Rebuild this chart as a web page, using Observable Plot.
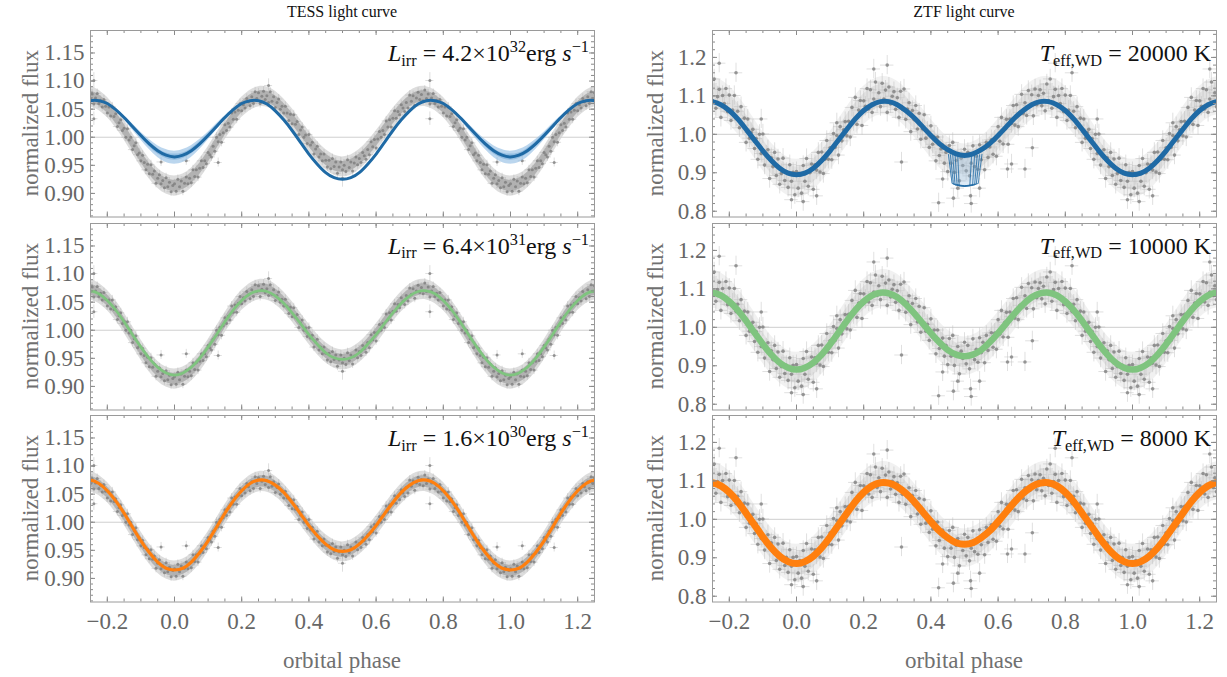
<!DOCTYPE html>
<html><head><meta charset="utf-8">
<script src="https://cdn.jsdelivr.net/npm/d3@7"></script>
<script src="https://cdn.jsdelivr.net/npm/@observablehq/plot@0.6"></script>
<style>
body{margin:0;background:#fff;}
#wrap{position:relative;width:1227px;height:677px;overflow:hidden;font-family:"Liberation Serif","Times New Roman",serif;}
#wrap svg{position:absolute;overflow:visible;}
.title{position:absolute;font-family:"Liberation Serif",serif;font-size:16px;color:#111;transform:translateX(-50%);white-space:nowrap;line-height:16px;}
.ylab{position:absolute;font-family:"Liberation Serif",serif;font-size:23px;color:#707070;white-space:nowrap;transform:translate(-50%,-50%) rotate(-90deg);line-height:23px;}
.xlab{position:absolute;font-family:"Liberation Serif",serif;font-size:23px;color:#707070;white-space:nowrap;transform:translate(-50%,-50%);line-height:23px;}
.ann{position:absolute;font-family:"Liberation Serif",serif;font-size:24px;color:#111;white-space:nowrap;line-height:24px;}
.ann sub{font-size:0.68em;position:relative;top:0.3em;vertical-align:baseline;}
.ann sup{font-size:0.68em;position:relative;top:-0.55em;vertical-align:baseline;}
</style></head>
<body><div id="wrap"></div>
<script>
// ---------------- data ----------------
const titles = ["TESS light curve", "ZTF light curve"];
const xLabel = "orbital phase";
const yLabel = "normalized flux";
const annTess = ["<i>L</i><sub>irr</sub> = 4.2×10<sup>32</sup>erg <i>s</i><sup>−1</sup>",
                 "<i>L</i><sub>irr</sub> = 6.4×10<sup>31</sup>erg <i>s</i><sup>−1</sup>",
                 "<i>L</i><sub>irr</sub> = 1.6×10<sup>30</sup>erg <i>s</i><sup>−1</sup>"];
const annZtf = ["<i>T</i><sub>eff,WD</sub> = 20000 K",
                "<i>T</i><sub>eff,WD</sub> = 10000 K",
                "<i>T</i><sub>eff,WD</sub> = 8000 K"];

const xTicks = [-0.2, 0.0, 0.2, 0.4, 0.6, 0.8, 1.0, 1.2];
const yTicksTess = [0.90, 0.95, 1.00, 1.05, 1.10, 1.15];
const yTicksZtf = [0.8, 0.9, 1.0, 1.1, 1.2];

// TESS phase-folded points [phase, flux]
const tessPoints = [
[0.000,.917],[0.005,.904],[0.010,.925],[0.015,.912],[0.020,.922],[0.025,.904],[0.030,.918],[0.035,.929],[0.040,.917],[0.045,.927],
[0.050,.919],[0.055,.942],[0.060,.930],[0.065,.942],[0.070,.929],[0.075,.945],[0.080,.958],[0.085,.946],[0.090,.958],[0.095,.953],
[0.100,.973],[0.105,.969],[0.110,.965],[0.115,.984],[0.120,.975],[0.125,1.000],[0.130,.992],[0.135,1.005],[0.140,.991],[0.145,1.008],
[0.150,1.022],[0.155,1.012],[0.160,1.025],[0.165,1.018],[0.170,1.043],[0.175,1.032],[0.180,1.045],[0.185,1.032],[0.190,1.048],[0.195,1.060],
[0.200,1.047],[0.205,1.058],[0.210,1.052],[0.215,1.069],[0.220,1.063],[0.225,1.056],[0.230,1.072],[0.235,1.060],[0.240,1.081],[0.245,1.069],
[0.250,1.079],[0.255,1.060],[0.260,1.073],[0.265,1.082],[0.270,1.067],[0.275,1.074],[0.280,1.062],[0.285,1.081],[0.290,1.064],[0.295,1.072],
[0.300,1.053],[0.305,1.062],[0.310,1.068],[0.315,1.050],[0.320,1.055],[0.325,1.043],[0.330,1.055],[0.335,1.043],[0.340,1.030],[0.345,1.041],
[0.350,1.024],[0.355,1.040],[0.360,1.023],[0.365,1.028],[0.370,1.005],[0.375,1.013],[0.380,1.018],[0.385,1.000],[0.390,1.004],[0.395,.989],
[0.400,1.005],[0.405,.986],[0.410,.991],[0.415,.970],[0.420,.979],[0.425,.984],[0.430,.965],[0.435,.970],[0.440,.958],[0.445,.970],
[0.450,.959],[0.455,.947],[0.460,.959],[0.465,.944],[0.470,.962],[0.475,.948],[0.480,.956],[0.485,.936],[0.490,.947],[0.495,.956],
[0.500,.942],[0.505,.950],[0.510,.939],[0.515,.960],[0.520,.946],[0.525,.956],[0.530,.940],[0.535,.954],[0.540,.965],[0.545,.951],
[0.550,.962],[0.555,.955],[0.560,.973],[0.565,.967],[0.570,.961],[0.575,.978],[0.580,.969],[0.585,.992],[0.590,.983],[0.595,.996],
[0.600,.981],[0.605,.997],[0.610,1.010],[0.615,1.000],[0.620,1.012],[0.625,1.005],[0.630,1.029],[0.635,1.018],[0.640,1.031],[0.645,1.018],
[0.650,1.034],[0.655,1.047],[0.660,1.034],[0.665,1.046],[0.670,1.040],[0.675,1.058],[0.680,1.052],[0.685,1.046],[0.690,1.062],[0.695,1.052],
[0.700,1.075],[0.705,1.064],[0.710,1.074],[0.715,1.057],[0.720,1.070],[0.725,1.080],[0.730,1.067],[0.735,1.076],[0.740,1.065],[0.745,1.084],
[0.750,1.069],[0.755,1.077],[0.760,1.059],[0.765,1.070],[0.770,1.078],[0.775,1.060],[0.780,1.066],[0.785,1.054],[0.790,1.067],[0.795,1.055],
[0.800,1.043],[0.805,1.054],[0.810,1.038],[0.815,1.054],[0.820,1.037],[0.825,1.042],[0.830,1.019],[0.835,1.026],[0.840,1.031],[0.845,1.012],
[0.850,1.016],[0.855,1.000],[0.860,1.015],[0.865,.995],[0.870,1.000],[0.875,.978],[0.880,.985],[0.885,.990],[0.890,.969],[0.895,.972],
[0.900,.958],[0.905,.968],[0.910,.955],[0.915,.942],[0.920,.952],[0.925,.935],[0.930,.951],[0.935,.934],[0.940,.940],[0.945,.918],
[0.950,.927],[0.955,.933],[0.960,.917],[0.965,.923],[0.970,.910],[0.975,.928],[0.980,.912],[0.985,.920],[0.990,.903],[0.995,.914]
];
const tessYerr = 0.008, tessXerr = 0.012;
// TESS isolated points [phase, flux, yerr]
const tessOutliers = [[0.280,1.092,0.012],[0.760,1.101,0.014],[0.760,1.033,0.012],[0.500,0.927,0.016],[0.035,0.958,0.008],[0.960,0.956,0.008],[0.130,0.955,0.008]];
// extent of the dense TESS point cloud (phase 0..1 every 0.05): outer halo and dense core
const cloudPhase = [0,0.05,0.1,0.15,0.2,0.25,0.3,0.35,0.4,0.45,0.5,0.55,0.6,0.65,0.7,0.75,0.8,0.85,0.9,0.95,1];
const tessLo  = [.895,.909,.947,.995,1.035,1.054,1.046,1.015,.975,.942,.929,.942,.975,1.015,1.046,1.054,1.035,.995,.947,.909,.895];
const tessHi  = [.931,.945,.983,1.031,1.071,1.090,1.082,1.051,1.011,.978,.965,.978,1.011,1.051,1.082,1.090,1.071,1.031,.983,.945,.931];
const tessLo2 = [.903,.917,.955,1.003,1.043,1.062,1.054,1.023,.983,.950,.937,.950,.983,1.023,1.054,1.062,1.043,1.003,.955,.917,.903];
const tessHi2 = [.923,.937,.975,1.023,1.063,1.082,1.074,1.043,1.003,.970,.957,.970,1.003,1.043,1.074,1.082,1.063,1.023,.975,.937,.923];

// ZTF phase-folded points [phase, flux]
const ztfPoints = [
[0.000,.903],[0.005,.860],[0.010,.893],[0.015,.847],[0.020,.919],[0.025,.878],[0.030,.937],[0.035,.865],[0.040,.900],[0.045,.923],
[0.050,.857],[0.055,.921],[0.060,.907],[0.065,.953],[0.070,.902],[0.075,.954],[0.080,.898],[0.085,.935],[0.090,.984],[0.095,.935],
[0.100,.965],[0.105,.934],[0.110,1.002],[0.115,.966],[0.120,.997],[0.125,.946],[0.130,1.020],[0.135,.983],[0.140,1.012],[0.145,1.033],
[0.150,.996],[0.155,1.034],[0.160,.993],[0.165,1.070],[0.170,1.033],[0.175,1.096],[0.180,1.026],[0.185,1.063],[0.190,1.088],[0.195,1.023],
[0.200,1.087],[0.205,1.073],[0.210,1.119],[0.215,1.066],[0.220,1.116],[0.225,1.057],[0.230,1.092],[0.235,1.136],[0.240,1.083],[0.245,1.108],
[0.250,1.072],[0.255,1.133],[0.260,1.092],[0.265,1.115],[0.270,1.057],[0.275,1.123],[0.280,1.079],[0.285,1.099],[0.290,1.111],[0.295,1.065],
[0.300,1.095],[0.305,1.044],[0.310,1.112],[0.315,1.065],[0.320,1.118],[0.325,1.039],[0.330,1.066],[0.335,1.082],[0.340,1.007],[0.345,1.062],
[0.350,1.038],[0.355,1.075],[0.360,1.014],[0.365,1.055],[0.370,.987],[0.375,1.014],[0.380,1.051],[0.385,.990],[0.390,1.008],[0.395,.966],
[0.400,1.022],[0.405,.974],[0.410,.993],[0.415,.931],[0.420,.993],[0.425,.945],[0.430,.962],[0.435,.972],[0.440,.925],[0.445,.953],
[0.450,.903],[0.455,.971],[0.460,.925],[0.465,.979],[0.470,.901],[0.475,.932],[0.480,.950],[0.485,.879],[0.490,.938],[0.495,.919],
[0.500,.961],[0.505,.905],[0.510,.953],[0.515,.892],[0.520,.925],[0.525,.970],[0.530,.916],[0.535,.943],[0.540,.909],[0.545,.973],
[0.550,.934],[0.555,.961],[0.560,.908],[0.565,.979],[0.570,.940],[0.575,.967],[0.580,.986],[0.585,.948],[0.590,.985],[0.595,.943],
[0.600,1.020],[0.605,.982],[0.610,1.044],[0.615,.975],[0.620,1.013],[0.625,1.039],[0.630,.974],[0.635,1.040],[0.640,1.028],[0.645,1.075],
[0.650,1.024],[0.655,1.077],[0.660,1.020],[0.665,1.057],[0.670,1.104],[0.675,1.054],[0.680,1.082],[0.685,1.049],[0.690,1.114],[0.695,1.075],
[0.700,1.103],[0.705,1.048],[0.710,1.118],[0.715,1.077],[0.720,1.101],[0.725,1.116],[0.730,1.074],[0.735,1.107],[0.740,1.061],[0.745,1.131],
[0.750,1.088],[0.755,1.144],[0.760,1.068],[0.765,1.098],[0.770,1.117],[0.775,1.044],[0.780,1.101],[0.785,1.080],[0.790,1.119],[0.795,1.059],
[0.800,1.102],[0.805,1.036],[0.810,1.063],[0.815,1.101],[0.820,1.041],[0.825,1.060],[0.830,1.017],[0.835,1.072],[0.840,1.024],[0.845,1.042],
[0.850,.979],[0.855,1.040],[0.860,.990],[0.865,1.005],[0.870,1.013],[0.875,.963],[0.880,.989],[0.885,.935],[0.890,1.000],[0.895,.950],
[0.900,1.001],[0.905,.920],[0.910,.946],[0.915,.960],[0.920,.885],[0.925,.939],[0.930,.916],[0.935,.953],[0.940,.893],[0.945,.936],
[0.950,.870],[0.955,.898],[0.960,.938],[0.965,.880],[0.970,.901],[0.975,.862],[0.980,.921],[0.985,.878],[0.990,.901],[0.995,.843]
];
const ztfYerr = 0.025, ztfXerr = 0.02;
// ZTF isolated points [phase, flux]
const ztfOutliers = [[0.3125,0.928],[0.702,0.965],[0.640,0.923],[0.680,0.910],[0.628,0.910],[0.423,0.822],[0.435,0.884],
[0.467,0.834],[0.518,0.840],[0.520,0.820],[0.545,0.860],[0.480,0.860],[0.020,0.825],[0.985,0.830],[0.270,1.180],
[0.770,1.185],[0.820,1.160],[0.120,1.030],[0.895,1.040],[0.230,1.170],[0.060,0.840]];
// extent of the ZTF point cloud (same phases as cloudPhase): halo and core
const ztfLo  = [.835,.855,.906,.971,1.025,1.050,1.038,.994,.939,.893,.875,.893,.939,.994,1.038,1.050,1.025,.971,.906,.855,.835];
const ztfHi  = [.935,.955,1.006,1.071,1.125,1.150,1.138,1.094,1.039,.993,.975,.993,1.039,1.094,1.138,1.150,1.125,1.071,1.006,.955,.935];
const ztfLo2 = [.855,.875,.926,.991,1.045,1.070,1.058,1.014,.959,.913,.895,.913,.959,1.014,1.058,1.070,1.045,.991,.926,.875,.855];
const ztfHi2 = [.915,.935,.986,1.051,1.105,1.130,1.118,1.074,1.019,.973,.955,.973,1.019,1.074,1.118,1.130,1.105,1.051,.986,.935,.915];

// model light curves, phase 0..1
const modelPhase = [0,0.025,0.05,0.075,0.1,0.125,0.15,0.175,0.2,0.225,0.25,0.275,0.3,0.325,0.35,0.375,0.4,0.425,0.45,0.475,0.5,
  0.525,0.55,0.575,0.6,0.625,0.65,0.675,0.7,0.725,0.75,0.775,0.8,0.825,0.85,0.875,0.9,0.925,0.95,0.975,1];
const modelTess1 = [.965,.968,.976,.988,1.003,1.019,1.035,1.049,1.060,1.065,1.065,1.059,1.047,1.031,1.012,.991,.970,.952,.937,.928,.925,
  .928,.937,.952,.970,.991,1.012,1.031,1.047,1.059,1.065,1.065,1.060,1.049,1.035,1.019,1.003,.988,.976,.968,.965];
const modelTess2 = [.920,.924,.934,.950,.970,.992,1.015,1.036,1.053,1.065,1.070,1.069,1.061,1.048,1.031,1.012,.992,.975,.960,.951,.948,
  .951,.960,.975,.992,1.012,1.031,1.048,1.061,1.069,1.070,1.065,1.053,1.036,1.015,.992,.970,.950,.934,.924,.920];
const modelTess3 = [.915,.918,.929,.946,.967,.991,1.016,1.038,1.056,1.069,1.075,1.074,1.066,1.053,1.035,1.015,.994,.976,.961,.951,.948,
  .951,.961,.976,.994,1.015,1.035,1.053,1.066,1.074,1.075,1.069,1.056,1.038,1.016,.991,.967,.946,.929,.918,.915];
const modelZtf1 = [.895,.899,.912,.932,.957,.985,1.013,1.040,1.062,1.077,1.085,1.085,1.077,1.062,1.043,1.020,.997,.976,.960,.949,.945,
  .949,.960,.976,.997,1.020,1.043,1.062,1.077,1.085,1.085,1.077,1.062,1.040,1.013,.985,.957,.932,.912,.899,.895];
const modelZtf2 = [.890,.895,.908,.929,.956,.986,1.017,1.045,1.067,1.083,1.090,1.088,1.078,1.060,1.037,1.011,.985,.961,.941,.929,.925,
  .929,.941,.961,.985,1.011,1.037,1.060,1.078,1.088,1.090,1.083,1.067,1.045,1.017,.986,.956,.929,.908,.895,.890];
const modelZtf3 = [.885,.890,.904,.926,.954,.985,1.016,1.046,1.070,1.087,1.095,1.094,1.085,1.068,1.046,1.020,.994,.970,.952,.939,.935,
  .939,.952,.970,.994,1.020,1.046,1.068,1.085,1.094,1.095,1.087,1.070,1.046,1.016,.985,.954,.926,.904,.890,.885];

// spread of the strongest-irradiation models around phase 0
const bandPhase = [-0.25,-0.225,-0.2,-0.175,-0.15,-0.125,-0.1,-0.075,-0.05,-0.025,0,0.025,0.05,0.075,0.1,0.125,0.15,0.175,0.2,0.225,0.25];
const bandLo  = [1.065,1.065,1.059,1.047,1.031,1.013,.995,.978,.964,.955,.952,.955,.964,.978,.995,1.013,1.031,1.047,1.059,1.065,1.065];
const bandHi  = [1.065,1.065,1.061,1.051,1.038,1.024,1.009,.996,.985,.978,.975,.978,.985,.996,1.009,1.024,1.038,1.051,1.061,1.065,1.065];
const bandLo2 = [1.065,1.065,1.060,1.048,1.033,1.016,.999,.983,.970,.962,.959,.962,.970,.983,.999,1.016,1.033,1.048,1.060,1.065,1.065];
const bandHi2 = [1.065,1.065,1.060,1.050,1.036,1.021,1.006,.992,.980,.972,.970,.972,.980,.992,1.006,1.021,1.036,1.050,1.060,1.065,1.065];

// eclipse of the white dwarf in the 20000 K models [phase, flux]
const eclipseCurves = [
  [[0.452,0.948],[0.463,0.872],[0.500,0.866],[0.541,0.872],[0.552,0.948]],
  [[0.458,0.947],[0.467,0.870],[0.500,0.865],[0.535,0.870],[0.545,0.947]],
  [[0.465,0.946],[0.472,0.868],[0.500,0.865],[0.530,0.868],[0.538,0.946]],
  [[0.472,0.946],[0.478,0.867],[0.500,0.865],[0.524,0.867],[0.530,0.946]],
  [[0.480,0.945],[0.484,0.866],[0.516,0.866],[0.521,0.945]]
];

// ---------------- build ----------------
const wrap = document.getElementById("wrap");
const fmt1 = d3.format(".1f"), fmt2 = d3.format(".2f");
const BLUE = "#1f6aa5", GREEN = "#7fc47f", ORANGE = "#ff7f0e";

function expandPts(pts, ye, xe) {
  const out = [];
  for (const d of pts) for (const o of [-1, 0, 1]) {
    const q = d[0] + o;
    if (q >= -0.3 && q <= 1.3) out.push({p: q, f: d[1], e: d.length > 2 ? d[2] : ye, xe});
  }
  return out;
}
function expandModel(vals) {
  const out = [];
  for (const o of [-1, 0, 1])
    modelPhase.forEach((p, i) => { if (o === 1 || i < modelPhase.length - 1) out.push({p: p + o, f: vals[i]}); });
  return out;
}
function expandCloud(lo, hi, lo2, hi2) {
  const out = [];
  for (const o of [-1, 0, 1])
    cloudPhase.forEach((p, i) => { if (o === 1 || i < cloudPhase.length - 1) out.push({p: p + o, lo: lo[i], hi: hi[i], lo2: lo2[i], hi2: hi2[i]}); });
  return out;
}
const tessData = expandPts(tessPoints, tessYerr, tessXerr).concat(expandPts(tessOutliers, tessYerr, tessXerr));
const ztfData = expandPts(ztfPoints, ztfYerr, ztfXerr).concat(expandPts(ztfOutliers, ztfYerr, ztfXerr));
const tessCloud = expandCloud(tessLo, tessHi, tessLo2, tessHi2);
const ztfCloud = expandCloud(ztfLo, ztfHi, ztfLo2, ztfHi2);

const rowTops = [30, 222.5, 415];
const frameH = 186.5;
const cols = [
  {svgLeft: 0, W: 610, mL: 90, mR: 16, yDomain: [0.858, 1.19], yMajor: yTicksTess, yMinor: d3.range(0.86, 1.1901, 0.01), yFmt: fmt2, data: tessData,
   ptR: 1.5, ptOp: 0.75, ebOp: 0.55, ebCol: "#b4b4b4",
   cloud: [Plot.areaY(tessCloud, {x: "p", y1: "lo", y2: "hi", fill: "#d2d2d2", fillOpacity: 0.75, curve: "natural", clip: true}),
           Plot.areaY(tessCloud, {x: "p", y1: "lo2", y2: "hi2", fill: "#8e8e8e", fillOpacity: 0.55, curve: "natural", clip: true})]},
  {svgLeft: 610, W: 617, mL: 102, mR: 11, yDomain: [0.785, 1.27], yMajor: yTicksZtf, yMinor: d3.range(0.80, 1.2601, 0.02), yFmt: fmt1, data: ztfData,
   ptR: 1.8, ptOp: 0.75, ebOp: 0.6, ebCol: "#bdbdbd",
   cloud: [Plot.areaY(ztfCloud, {x: "p", y1: "lo", y2: "hi", fill: "#e4e4e4", fillOpacity: 0.5, curve: "natural", clip: true}),
           Plot.areaY(ztfCloud, {x: "p", y1: "lo2", y2: "hi2", fill: "#bdbdbd", fillOpacity: 0.3, curve: "natural", clip: true})]}
];
const xMinor = d3.range(-0.25, 1.2501, 0.05);

function modelMarks(col, row) {
  if (col === 0) {
    if (row === 0) {
      const band = bandPhase.flatMap((p, i) => [0, 1].map(o => ({p: p + o, lo: bandLo[i], hi: bandHi[i], lo2: bandLo2[i], hi2: bandHi2[i]})));
      const b0 = band.filter((d, i) => i % 2 === 0), b1 = band.filter((d, i) => i % 2 === 1);
      return [b0, b1].flatMap(b => [
        Plot.areaY(b, {x: "p", y1: "lo", y2: "hi", fill: "#8dbbe2", fillOpacity: 0.6, curve: "natural", clip: true}),
        Plot.areaY(b, {x: "p", y1: "lo2", y2: "hi2", fill: "#4a8ec8", fillOpacity: 0.35, curve: "natural", clip: true})
      ]).concat([Plot.line(expandModel(modelTess1), {x: "p", y: "f", stroke: BLUE, strokeWidth: 3, curve: "natural", clip: true})]);
    }
    if (row === 1) return [Plot.line(expandModel(modelTess2), {x: "p", y: "f", stroke: GREEN, strokeWidth: 2.8, curve: "natural", clip: true})];
    return [Plot.line(expandModel(modelTess3), {x: "p", y: "f", stroke: ORANGE, strokeWidth: 3.2, curve: "natural", clip: true})];
  } else {
    if (row === 0) {
      const ecl = eclipseCurves.flatMap((c, k) => c.map(([p, f]) => ({p, f, k})));
      return [
        Plot.areaY(eclipseCurves[0].map(([p, f]) => ({p, f})), {x: "p", y1: 0.946, y2: "f", fill: "#9cc3e6", fillOpacity: 0.35, clip: true}),
        Plot.line(expandModel(modelZtf1), {x: "p", y: "f", stroke: BLUE, strokeWidth: 5, curve: "natural", clip: true}),
        Plot.line(ecl, {x: "p", y: "f", z: "k", stroke: BLUE, strokeWidth: 1, strokeOpacity: 0.8, clip: true})
      ];
    }
    if (row === 1) return [Plot.line(expandModel(modelZtf2), {x: "p", y: "f", stroke: GREEN, strokeWidth: 6.5, curve: "natural", clip: true})];
    return [Plot.line(expandModel(modelZtf3), {x: "p", y: "f", stroke: ORANGE, strokeWidth: 7, curve: "natural", clip: true})];
  }
}

cols.forEach((c, ci) => {
  rowTops.forEach((top, ri) => {
    const mT = 10, mB = 50;
    const H = frameH + mT + mB;
    const tickCol = "#8a8a8a";
    const iw = c.W - c.mL - c.mR;
    const marks = [
      Plot.ruleY([1], {stroke: "#cfcfcf", strokeWidth: 1}),
      ...c.cloud,
      Plot.ruleX(c.data, {x: "p", y1: d => d.f - d.e, y2: d => d.f + d.e, stroke: c.ebCol, strokeOpacity: c.ebOp, strokeWidth: 0.8, clip: true}),
      Plot.ruleY(c.data, {y: "f", x1: d => d.p - d.xe, x2: d => d.p + d.xe, stroke: c.ebCol, strokeOpacity: c.ebOp, strokeWidth: 0.8, clip: true}),
      Plot.dot(c.data, {x: "p", y: "f", r: c.ptR, fill: "#7a7a7a", fillOpacity: c.ptOp, stroke: "none", clip: true}),
      ...modelMarks(ci, ri),
      // inward frame ticks
      Plot.tickX(xMinor, {x: d => d, insetTop: frameH - 3, stroke: tickCol}),
      Plot.tickX(xMinor, {x: d => d, insetBottom: frameH - 3, stroke: tickCol}),
      Plot.tickX(xTicks, {x: d => d, insetTop: frameH - 5, stroke: tickCol}),
      Plot.tickX(xTicks, {x: d => d, insetBottom: frameH - 5, stroke: tickCol}),
      Plot.tickY(c.yMinor, {y: d => d, insetRight: iw - 3, stroke: tickCol}),
      Plot.tickY(c.yMinor, {y: d => d, insetLeft: iw - 3, stroke: tickCol}),
      Plot.tickY(c.yMajor, {y: d => d, insetRight: iw - 5, stroke: tickCol}),
      Plot.tickY(c.yMajor, {y: d => d, insetLeft: iw - 5, stroke: tickCol}),
      Plot.frame({stroke: "#9a9a9a", strokeWidth: 1}),
      Plot.text(c.yMajor, {y: d => d, frameAnchor: "left", dx: -6, textAnchor: "end", lineAnchor: "middle", text: d => c.yFmt(d), fontSize: 23, fill: "#666", fontFamily: "Liberation Serif"})
    ];
    if (ri === 2) marks.push(Plot.text(xTicks, {x: d => d, frameAnchor: "bottom", dy: 20, lineAnchor: "middle", text: d => fmt1(d), fontSize: 23, fill: "#666", fontFamily: "Liberation Serif"}));
    const svg = Plot.plot({
      width: c.W, height: H, marginTop: mT, marginBottom: mB, marginLeft: c.mL, marginRight: c.mR,
      x: {domain: [-0.25, 1.25], axis: null},
      y: {domain: c.yDomain, axis: null},
      style: {background: "transparent", fontFamily: "Liberation Serif"},
      marks
    });
    svg.style.left = c.svgLeft + "px";
    svg.style.top = (top - mT) + "px";
    wrap.appendChild(svg);
  });
});

function addDiv(cls, html, style) {
  const d = document.createElement("div");
  d.className = cls; d.innerHTML = html;
  Object.assign(d.style, style);
  wrap.appendChild(d);
  return d;
}
addDiv("title", titles[0], {left: "342px", top: "4px"});
addDiv("title", titles[1], {left: "964px", top: "4px"});
addDiv("xlab", xLabel, {left: "342px", top: "660px"});
addDiv("xlab", xLabel, {left: "964px", top: "660px"});
rowTops.forEach((t, i) => {
  addDiv("ylab", yLabel, {left: "30px", top: (t + frameH / 2) + "px"});
  addDiv("ylab", yLabel, {left: "655px", top: (t + frameH / 2) + "px"});
  addDiv("ann", annTess[i], {right: (1227 - 589) + "px", top: (t + 11) + "px"});
  addDiv("ann", annZtf[i], {right: (1227 - 1211) + "px", top: (t + 11) + "px"});
});
</script>
</body></html>
